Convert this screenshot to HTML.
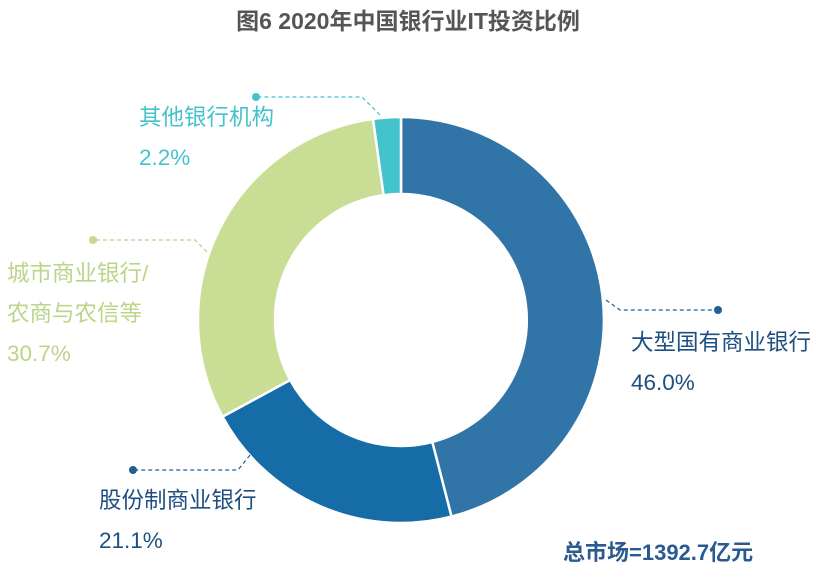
<!DOCTYPE html><html><head><meta charset="utf-8"><style>
body{margin:0;width:816px;height:583px;background:#fff;overflow:hidden;font-family:"Liberation Sans","Noto Sans CJK SC",sans-serif}
</style></head><body>
<svg width="816" height="583" xmlns="http://www.w3.org/2000/svg" style="font-family:'Liberation Sans','Noto Sans CJK SC',sans-serif">
<text x="408" y="29" text-anchor="middle" font-size="23" font-weight="bold" fill="#555">图6 2020年中国银行业IT投资比例</text>
<g stroke="#fff" stroke-width="2.5">
<path d="M401,117 A203,203 0 0 1 451.5,516.6 L432.3,442 A126,126 0 0 0 401,194 Z" fill="#3174a8"/>
<path d="M451.5,516.6 A203,203 0 0 1 222.5,416.7 L290.2,380 A126,126 0 0 0 432.3,442 Z" fill="#166ca6"/>
<path d="M222.5,416.7 A203,203 0 0 1 373,118.9 L383.6,195.2 A126,126 0 0 0 290.2,380 Z" fill="#cadd95"/>
<path d="M373,118.9 A203,203 0 0 1 401,117 L401,194 A126,126 0 0 0 383.6,195.2 Z" fill="#45c3cd"/>
</g>
<g fill="none" stroke-dasharray="4,3" stroke-width="1.2">
<polyline points="606,300 620,310 718,310" stroke="#1f5f96"/>
<polyline points="250,455 238,470 133,470" stroke="#1f5f96"/>
<polyline points="207,252 195,240 93,240" stroke="#b9d184"/>
<polyline points="380,115 362,97 256,97" stroke="#45c3cd"/>
</g>
<circle cx="718" cy="310" r="4" fill="#1f5f96"/>
<circle cx="133" cy="470" r="4" fill="#1f5f96"/>
<circle cx="93" cy="240" r="4" fill="#c4d98e"/>
<circle cx="256" cy="97" r="4" fill="#45c3cd"/>
<g font-size="22.5">
<text x="631" y="350" fill="#1e4f80">大型国有商业银行</text>
<text x="631" y="390" fill="#1e4f80">46.0%</text>
<text x="99" y="508" fill="#1e4f80">股份制商业银行</text>
<text x="99" y="548" fill="#1e4f80">21.1%</text>
<text x="7" y="281" fill="#bcd48a">城市商业银行/</text>
<text x="7" y="321" fill="#bcd48a">农商与农信等</text>
<text x="7" y="361" fill="#bcd48a">30.7%</text>
<text x="139" y="125" fill="#45c3cd">其他银行机构</text>
<text x="139" y="165" fill="#45c3cd">2.2%</text>
</g>
<text x="563" y="560" font-size="22" font-weight="bold" fill="#2a5a8f">总市场=1392.7亿元</text>
</svg>
</body></html>
